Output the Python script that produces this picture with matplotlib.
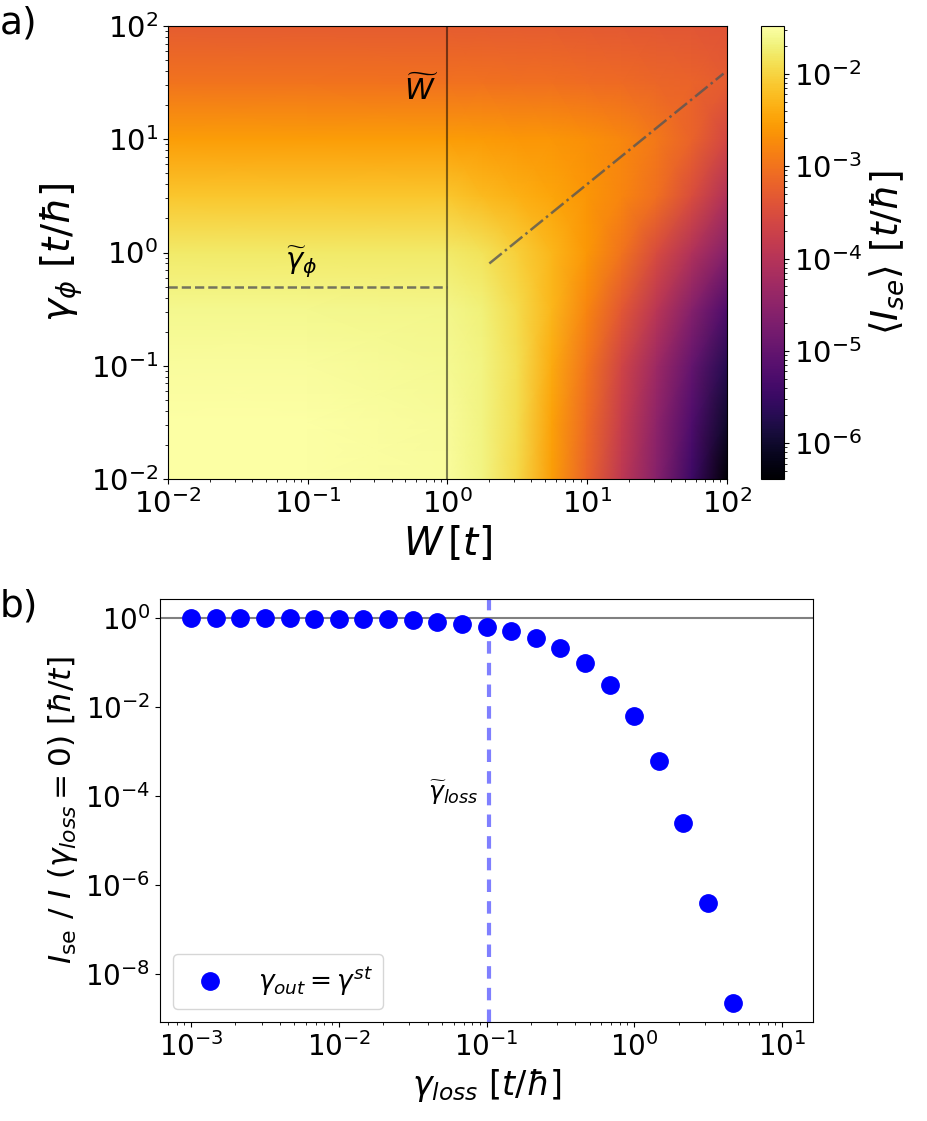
import numpy as np
import matplotlib
matplotlib.use("Agg")
import matplotlib.pyplot as plt
from matplotlib.colors import LogNorm

# ---- panel a) data: log10 <I_se> ----
log_W = [-2.0, -1.0, 0.0, 0.25, 0.5, 0.75, 1.0, 1.25, 1.5, 1.75, 2.0]
log_gamma_phi = [-2.0, -1.5, -1.0, -0.5, 0.0, 0.5, 1.0, 1.5, 2.0]
log_I_se = [
    [-1.49, -1.49, -1.52, -1.66, -1.96, -2.55, -3.20, -3.90, -4.60, -5.45, -6.35],
    [-1.50, -1.50, -1.55, -1.66, -1.92, -2.50, -3.10, -3.80, -4.50, -5.25, -6.00],
    [-1.53, -1.53, -1.58, -1.67, -1.89, -2.42, -2.98, -3.65, -4.30, -5.00, -5.70],
    [-1.60, -1.60, -1.63, -1.71, -1.94, -2.30, -2.80, -3.35, -3.95, -4.60, -5.25],
    [-1.77, -1.77, -1.78, -1.86, -2.05, -2.30, -2.60, -3.00, -3.55, -4.05, -4.60],
    [-2.15, -2.15, -2.15, -2.25, -2.35, -2.47, -2.62, -2.80, -3.05, -3.50, -4.05],
    [-2.55, -2.55, -2.55, -2.57, -2.60, -2.62, -2.68, -2.78, -2.95, -3.20, -3.60],
    [-3.00, -3.00, -3.02, -3.03, -3.05, -3.05, -3.08, -3.10, -3.15, -3.20, -3.30],
    [-3.30, -3.30, -3.30, -3.30, -3.30, -3.30, -3.32, -3.33, -3.35, -3.37, -3.40],
]
cbar_min, cbar_max = 4.1e-7, 3.3e-2
W_tilde = 1.0
gamma_phi_tilde = 0.5
diag_W = [2.0, 95.0]
diag_gamma = [0.8, 38.0]

# ---- panel b) data ----
gamma_loss = [1e-3 * 10 ** (k / 6) for k in range(23)]
I_ratio = [1.0, 1.0, 0.99, 0.99, 0.98, 0.97, 0.96, 0.95, 0.93, 0.90, 0.81,
           0.75, 0.63, 0.50, 0.36, 0.21, 0.098, 0.0315, 6.2e-3, 6.0e-4,
           2.5e-5, 3.9e-7, 2.2e-9]
gamma_loss_tilde = 0.104

fig = plt.figure(figsize=(9.28, 11.21), dpi=100)

# panel a)
ax1 = fig.add_axes([0.181, 0.5727, 0.602, 0.4041])
cax = fig.add_axes([0.820, 0.5727, 0.025, 0.4041])

WW, GG = np.meshgrid(10 ** np.array(log_W), 10 ** np.array(log_gamma_phi))
mesh = ax1.pcolormesh(WW, GG, 10 ** np.array(log_I_se), shading="gouraud",
                      cmap="inferno", norm=LogNorm(vmin=cbar_min, vmax=cbar_max),
                      rasterized=True)
ax1.set_xscale("log")
ax1.set_yscale("log")
ax1.set_xlim(1e-2, 1e2)
ax1.set_ylim(1e-2, 1e2)
ax1.axvline(W_tilde, color="k", alpha=0.5, lw=1.5)
ax1.plot([1e-2, W_tilde], [gamma_phi_tilde, gamma_phi_tilde], "--", color="#555555",
         alpha=0.8, lw=1.8)
ax1.plot(diag_W, diag_gamma, "-.", color="#555555", alpha=0.8, lw=1.8)
ax1.text(0.65, 27, r"$\widetilde{W}$", fontsize=21, ha="center", va="center")
ax1.text(0.09, 0.82, r"$\widetilde{\gamma}_{\phi}$", fontsize=21, ha="center", va="center")
ax1.set_xlabel(r"$W\,[t]$", fontsize=28)
ax1.set_ylabel(r"$\gamma_{\phi}\ [t/\hbar]$", fontsize=28)
ax1.tick_params(labelsize=21)

cb = fig.colorbar(mesh, cax=cax)
cb.set_label(r"$\langle I_{se}\rangle\ [t/\hbar]$", fontsize=27)
cb.ax.tick_params(labelsize=21)

# panel b)
ax2 = fig.add_axes([0.1724, 0.0883, 0.7037, 0.3774])
ax2.axhline(1.0, color="gray", lw=1.5)
ax2.axvline(gamma_loss_tilde, color="b", alpha=0.5, lw=3, ls="--", dashes=(3, 2.2))
ax2.plot(gamma_loss, I_ratio, "o", color="b", ms=12.5, ls="none",
         label=r"$\gamma_{out} = \gamma^{st}$")
ax2.set_xscale("log")
ax2.set_yscale("log")
ax2.set_xlim(10 ** -3.21, 10 ** 1.21)
ax2.set_ylim(10 ** -9.08, 10 ** 0.43)
ax2.text(0.088, 1.17e-4, r"$\widetilde{\gamma}_{loss}$", fontsize=18,
         ha="right", va="center")
ax2.set_xlabel(r"$\gamma_{loss}\ [t/\hbar]$", fontsize=24)
ax2.set_ylabel(r"$I_{\rm se}\ /\ I\ (\gamma_{loss}=0)\ [\hbar/t]$", fontsize=22.5)
ax2.tick_params(labelsize=20)
ax2.legend(loc="lower left", fontsize=19)

fig.text(0.0, 0.995, "a)", fontsize=27, ha="left", va="top")
fig.text(0.0, 0.475, "b)", fontsize=27, ha="left", va="top")

fig.savefig("out.png", dpi=100)
